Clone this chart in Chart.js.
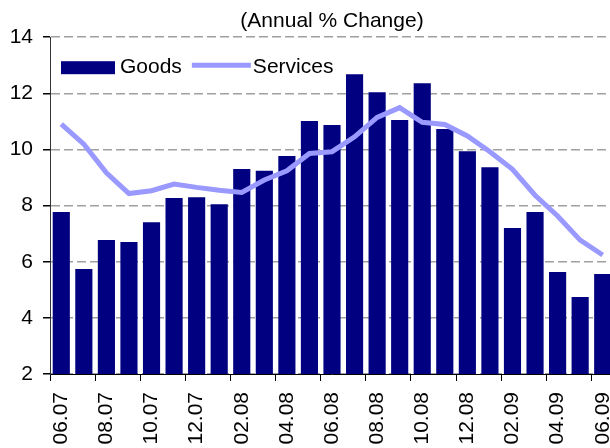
<!DOCTYPE html>
<html>
<head>
<meta charset="utf-8">
<script src="https://cdn.jsdelivr.net/npm/chart.js@4.4.1/dist/chart.umd.min.js"></script>
<style>
    html, body { margin: 0; padding: 0; overflow: hidden; background: #fff; }
    #wrap { width: 614px; height: 448px; }
</style>
</head>
<body>
<div id="wrap"><canvas id="myChart"></canvas></div>
<script>
// monthly, 06.07 .. 06.09
const months = ['06.07', '07.07', '08.07', '09.07', '10.07', '11.07', '12.07', '01.08', '02.08', '03.08',
    '04.08', '05.08', '06.08', '07.08', '08.08', '09.08', '10.08', '11.08', '12.08', '01.09',
    '02.09', '03.09', '04.09', '05.09', '06.09'];

const goods = [7.77, 5.74, 6.77, 6.70, 7.41, 8.27, 8.30, 8.05, 9.30, 9.24,
    9.77, 11.01, 10.87, 12.68, 12.04, 11.05, 12.36, 10.73, 9.94, 9.37,
    7.20, 7.77, 5.63, 4.74, 5.56];

const services = [10.90, 10.19, 9.17, 8.43, 8.53, 8.77, 8.65, 8.55, 8.47, 8.91,
    9.24, 9.86, 9.92, 10.45, 11.14, 11.49, 10.97, 10.89, 10.48, 9.92,
    9.29, 8.37, 7.63, 6.77, 6.24];

const yTicks = [2, 4, 6, 8, 10, 12, 14];

const FONT = 'Liberation Sans, Arial, sans-serif';
const GOODS_COLOR = '#000080';
const SERVICES_COLOR = '#9999ff';

// legend drawn inside the plot area, top left
const insideLegend = {
    id: 'insideLegend',
    afterDatasetsDraw(chart) {
        const ctx = chart.ctx;
        const area = chart.chartArea;
        const x0 = area.left + 11;
        const y0 = area.top + 24;
        ctx.save();
        ctx.font = '21px ' + FONT;
        ctx.textBaseline = 'middle';
        ctx.fillStyle = GOODS_COLOR;
        ctx.fillRect(x0, y0, 54, 13);
        ctx.fillStyle = '#000';
        ctx.fillText('Goods', x0 + 59, y0 + 6.5);
        const lx = x0 + 59 + ctx.measureText('Goods').width + 10;
        ctx.strokeStyle = SERVICES_COLOR;
        ctx.lineWidth = 5;
        ctx.beginPath();
        ctx.moveTo(lx, y0 + 4);
        ctx.lineTo(lx + 59, y0 + 4);
        ctx.stroke();
        ctx.fillText('Services', lx + 61, y0 + 6.5);
        ctx.restore();
    }
};

const ctx = document.getElementById('myChart').getContext('2d');
const myChart = new Chart(ctx, {
    type: 'bar',
    data: {
        labels: months,
        datasets: [
            {
                type: 'line',
                label: 'Services',
                data: services,
                borderColor: SERVICES_COLOR,
                backgroundColor: SERVICES_COLOR,
                borderWidth: 5,
                pointRadius: 0,
                tension: 0,
                order: 1
            },
            {
                label: 'Goods',
                data: goods,
                backgroundColor: GOODS_COLOR,
                barPercentage: 0.76,
                categoryPercentage: 1,
                order: 2
            }
        ]
    },
    options: {
        responsive: true,
        maintainAspectRatio: false,
        animation: false,
        layout: { padding: 0 },
        plugins: {
            legend: { display: false },
            tooltip: { enabled: false },
            title: {
                display: true,
                text: '(Annual % Change)',
                fullSize: false,
                color: '#000',
                font: { family: FONT, size: 21, weight: 'normal' },
                padding: { top: 9, bottom: 3 }
            }
        },
        scales: {
            x: {
                offset: true,
                grid: {
                    offset: true,
                    drawOnChartArea: false,
                    drawTicks: true,
                    tickLength: 7,
                    color: c => (c.index % 2 === 0 ? '#000' : 'rgba(0,0,0,0)')
                },
                border: { display: true, color: '#000', width: 1 },
                ticks: {
                    autoSkip: false,
                    maxRotation: 90,
                    minRotation: 90,
                    padding: 11,
                    color: '#000',
                    font: { family: FONT, size: 21 },
                    callback: function (value, index) {
                        return index % 2 === 0 ? months[index] : '';
                    }
                },
                afterFit: scale => {
                    scale.height = 74;
                    scale.paddingLeft = 0;
                    scale.paddingRight = 0;
                }
            },
            y: {
                min: yTicks[0],
                max: yTicks[yTicks.length - 1],
                afterBuildTicks: scale => { scale.ticks = yTicks.map(v => ({ value: v })); },
                grid: {
                    color: '#a0a0a0',
                    tickColor: '#000',
                    tickLength: 7,
                    lineWidth: 1.5
                },
                border: { display: true, color: '#333', width: 1, dash: [9, 4] },
                ticks: {
                    padding: 10,
                    color: '#000',
                    font: { family: FONT, size: 21 }
                },
                afterFit: scale => { scale.width = 50; }
            }
        }
    },
    plugins: [insideLegend]
});
</script>
</body>
</html>
